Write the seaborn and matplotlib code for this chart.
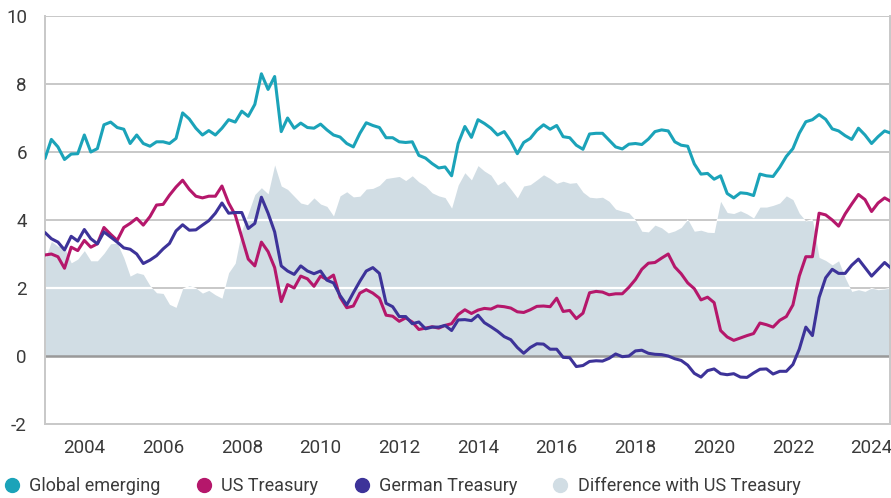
import numpy as np
import pandas as pd
import matplotlib
matplotlib.use("Agg")
import matplotlib.pyplot as plt
import matplotlib.dates as mdates
from matplotlib.lines import Line2D
import seaborn as sns

# bi-monthly readings, Jan 2003 .. Jul 2024
dates = pd.date_range("2003-01-01", periods=130, freq="2MS")

global_emerging = [
    5.81, 6.37, 6.15, 5.78, 5.94, 5.95, 6.50, 6.00, 6.10, 6.80,
    6.88, 6.72, 6.67, 6.25, 6.50, 6.25, 6.17, 6.30, 6.30, 6.25,
    6.40, 7.15, 6.97, 6.70, 6.50, 6.63, 6.50, 6.70, 6.95, 6.88,
    7.20, 7.05, 7.40, 8.30, 7.84, 8.22, 6.60, 7.00, 6.70, 6.85,
    6.72, 6.70, 6.82, 6.65, 6.50, 6.44, 6.25, 6.15, 6.55, 6.86,
    6.78, 6.72, 6.42, 6.42, 6.30, 6.28, 6.30, 5.90, 5.82, 5.66,
    5.53, 5.56, 5.30, 6.25, 6.75, 6.43, 6.95, 6.84, 6.70, 6.50,
    6.60, 6.32, 5.95, 6.28, 6.40, 6.64, 6.80, 6.67, 6.78, 6.45,
    6.42, 6.20, 6.08, 6.53, 6.55, 6.55, 6.35, 6.15, 6.09, 6.23,
    6.25, 6.22, 6.38, 6.60, 6.65, 6.62, 6.30, 6.20, 6.17, 5.65,
    5.35, 5.37, 5.20, 5.30, 4.78, 4.65, 4.80, 4.78, 4.72, 5.35,
    5.30, 5.28, 5.55, 5.87, 6.10, 6.55, 6.89, 6.95, 7.10, 6.96,
    6.68, 6.62, 6.48, 6.37, 6.70, 6.50, 6.25, 6.45, 6.62, 6.55,
]

us_treasury = [
    2.97, 3.00, 2.92, 2.58, 3.20, 3.10, 3.40, 3.20, 3.30, 3.78,
    3.58, 3.40, 3.78, 3.90, 4.05, 3.85, 4.10, 4.44, 4.46, 4.73,
    4.97, 5.17, 4.90, 4.70, 4.65, 4.70, 4.70, 5.00, 4.50, 4.15,
    3.50, 2.85, 2.65, 3.35, 3.07, 2.60, 1.60, 2.10, 2.00, 2.35,
    2.27, 2.05, 2.35, 2.25, 2.38, 1.73, 1.42, 1.47, 1.85, 1.95,
    1.85, 1.70, 1.20, 1.17, 1.02, 1.12, 1.00, 0.78, 0.82, 0.86,
    0.82, 0.90, 0.95, 1.22, 1.36, 1.25, 1.35, 1.40, 1.38, 1.47,
    1.45, 1.41, 1.30, 1.28, 1.36, 1.46, 1.47, 1.45, 1.70, 1.31,
    1.34, 1.10, 1.26, 1.86, 1.90, 1.88, 1.80, 1.83, 1.83, 2.02,
    2.25, 2.55, 2.73, 2.75, 2.88, 3.00, 2.62, 2.42, 2.15, 1.98,
    1.65, 1.73, 1.57, 0.75, 0.56, 0.46, 0.53, 0.60, 0.66, 0.97,
    0.92, 0.85, 1.05, 1.16, 1.50, 2.35, 2.92, 2.92, 4.20, 4.15,
    4.00, 3.82, 4.18, 4.47, 4.75, 4.60, 4.25, 4.50, 4.65, 4.54,
]

german_treasury = [
    3.63, 3.45, 3.35, 3.12, 3.52, 3.38, 3.72, 3.45, 3.30, 3.65,
    3.50, 3.35, 3.18, 3.14, 3.00, 2.72, 2.82, 2.95, 3.15, 3.31,
    3.68, 3.86, 3.70, 3.71, 3.85, 3.98, 4.20, 4.50, 4.20, 4.22,
    4.22, 3.75, 3.90, 4.67, 4.20, 3.65, 2.65, 2.50, 2.40, 2.65,
    2.50, 2.42, 2.50, 2.23, 2.15, 1.78, 1.50, 1.86, 2.20, 2.50,
    2.60, 2.43, 1.55, 1.45, 1.16, 1.16, 0.95, 1.00, 0.80, 0.85,
    0.85, 0.90, 0.75, 1.06, 1.07, 1.04, 1.20, 0.98, 0.86, 0.73,
    0.57, 0.48, 0.25, 0.08, 0.25, 0.36, 0.35, 0.20, 0.20, -0.04,
    -0.05, -0.31, -0.28, -0.16, -0.14, -0.15, -0.07, 0.06, -0.02, 0.00,
    0.15, 0.17, 0.08, 0.05, 0.04, 0.00, -0.08, -0.13, -0.27, -0.51,
    -0.62, -0.43, -0.38, -0.52, -0.55, -0.52, -0.62, -0.63, -0.50, -0.39,
    -0.38, -0.53, -0.45, -0.45, -0.25, 0.20, 0.85, 0.60, 1.72, 2.30,
    2.55, 2.43, 2.43, 2.67, 2.85, 2.60, 2.35, 2.55, 2.75, 2.58,
]

labels = ["Global emerging", "US Treasury", "German Treasury", "Difference with US Treasury"]
colors = ["#1ba3b9", "#b5176b", "#3d3399", "#d1dde4"]

df = pd.DataFrame({
    "date": dates,
    "ge": global_emerging,
    "ust": us_treasury,
    "bund": german_treasury,
})
df["diff"] = df["ge"] - df["ust"]

sns.set_style("white")
plt.rcParams["font.family"] = ["Roboto", "DejaVu Sans"]
plt.rcParams["axes.unicode_minus"] = False

fig = plt.figure(figsize=(8.91, 4.98), dpi=100)
ax = fig.add_axes([45 / 891, 1 - 424 / 498, 845 / 891, 408 / 498])

grid_c = "#c8c8c8"
text_c = "#3a3a3a"

# gray gridlines under everything
for y in [2, 4, 6, 8, 10]:
    ax.axhline(y, color=grid_c, lw=1.4, zorder=0.5)

# shaded spread
poly = ax.fill_between(df["date"], 0, df["diff"], color=colors[3], lw=0, zorder=1)

# gridlines turn white where they cross the shaded area
for y in [2, 4, 6, 8]:
    gl = ax.axhline(y, color="white", lw=1.6, zorder=1.5)
    gl.set_clip_path(poly.get_paths()[0], ax.transData)

ax.axhline(0, color="#999999", lw=1.8, zorder=2)

sns.lineplot(data=df, x="date", y="ust", color=colors[1], lw=2.2, ax=ax, zorder=3)
sns.lineplot(data=df, x="date", y="bund", color=colors[2], lw=2.2, ax=ax, zorder=4)
sns.lineplot(data=df, x="date", y="ge", color=colors[0], lw=2.2, ax=ax, zorder=5)

ax.set_xlim(pd.Timestamp("2003-01-01"), pd.Timestamp("2024-06-20"))
ax.set_ylim(-2, 10)
ax.set_yticks(range(-2, 11, 2))
ax.set_xlabel("")
ax.set_ylabel("")

ax.xaxis.set_major_locator(mdates.YearLocator(2))
ax.xaxis.set_major_formatter(mdates.DateFormatter("%Y"))
ax.set_xticks([pd.Timestamp("2003-01-01")], minor=True)

ax.tick_params(axis="y", length=0, pad=13, labelsize=13.5, labelcolor=text_c)
ax.tick_params(axis="x", which="both", direction="out", length=6, width=1.4,
               color=grid_c, pad=5, labelsize=13.5, labelcolor=text_c)

for side in ["left", "bottom", "right"]:
    ax.spines[side].set_color(grid_c)
    ax.spines[side].set_linewidth(1.4)
ax.spines["top"].set_visible(False)

handles = [Line2D([], [], marker="o", ls="", color=c, markersize=10) for c in colors]
fig.legend(handles, labels, loc="center left", bbox_to_anchor=(5 / 891, 12 / 498),
           ncol=4, frameon=False, fontsize=13, labelcolor=text_c,
           handlelength=0.8, handletextpad=0.55, columnspacing=2.0, borderpad=0,
           borderaxespad=0)

fig.savefig("out.png", dpi=100)
